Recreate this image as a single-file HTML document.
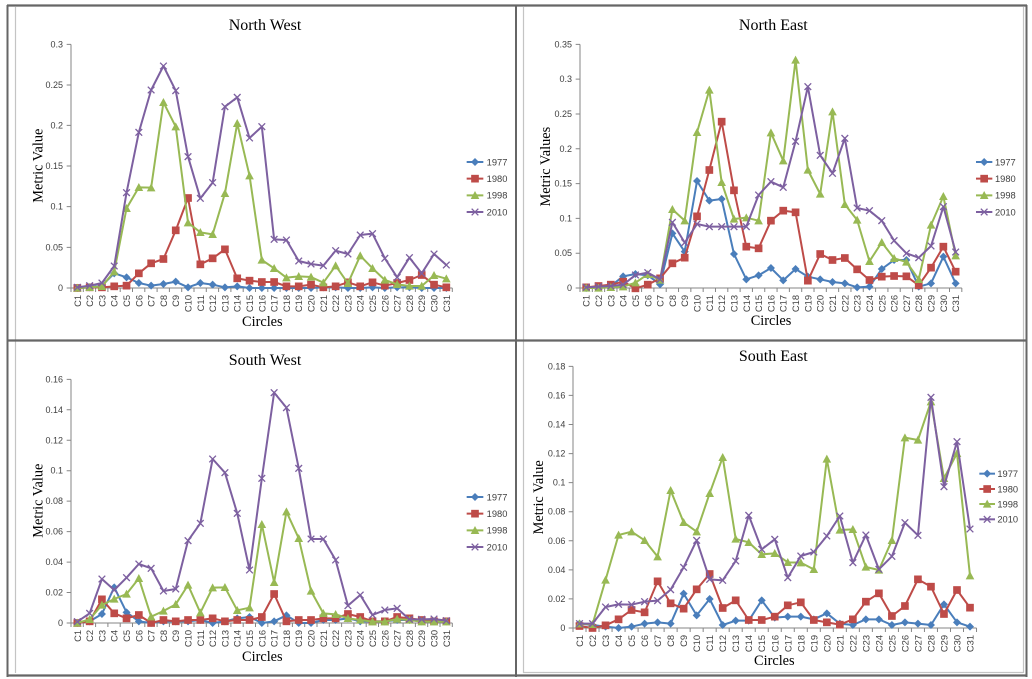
<!DOCTYPE html>
<html><head><meta charset="utf-8"><style>
html,body{margin:0;padding:0;background:#fff;}
svg{display:block;}
.tk{font-family:"Liberation Sans",Arial,sans-serif;font-size:27px;fill:#404040;}
.cx{font-family:"Liberation Sans",Arial,sans-serif;font-size:28px;fill:#404040;text-anchor:end;}
.lg{font-family:"Liberation Sans",Arial,sans-serif;font-size:28px;fill:#404040;}
.ti{font-family:"Liberation Serif","Times New Roman",serif;font-size:48px;fill:#000;text-anchor:middle;}
.al{font-family:"Liberation Serif","Times New Roman",serif;font-size:43px;fill:#000;text-anchor:middle;}
.ax{stroke:#868686;stroke-width:3;fill:none;}
.s1{stroke:#4a7ebb;stroke-width:6;fill:none;stroke-linejoin:round;marker-start:url(#mD);marker-mid:url(#mD);marker-end:url(#mD);}
.s2{stroke:#be4b48;stroke-width:6;fill:none;stroke-linejoin:round;marker-start:url(#mS);marker-mid:url(#mS);marker-end:url(#mS);}
.s3{stroke:#98b954;stroke-width:6;fill:none;stroke-linejoin:round;marker-start:url(#mT);marker-mid:url(#mT);marker-end:url(#mT);}
.s4{stroke:#7d60a0;stroke-width:6;fill:none;stroke-linejoin:round;marker-start:url(#mX);marker-mid:url(#mX);marker-end:url(#mX);}
.l1{stroke:#4a7ebb;stroke-width:6;fill:none;marker-mid:url(#mD);}
.l2{stroke:#be4b48;stroke-width:6;fill:none;marker-mid:url(#mS);}
.l3{stroke:#98b954;stroke-width:6;fill:none;marker-mid:url(#mT);}
.l4{stroke:#7d60a0;stroke-width:6;fill:none;marker-mid:url(#mX);}
</style></head><body>
<svg width="1032" height="679" viewBox="0 0 1032 679" xmlns="http://www.w3.org/2000/svg">
<defs>
<marker id="mD" markerUnits="userSpaceOnUse" markerWidth="40" markerHeight="40" refX="20" refY="20" orient="0"><path d="M20,8 L32,20 L20,32 L8,20Z" fill="#4a7ebb"/></marker>
<marker id="mS" markerUnits="userSpaceOnUse" markerWidth="40" markerHeight="40" refX="20" refY="20" orient="0"><rect x="8.5" y="8.5" width="23" height="23" fill="#be4b48"/></marker>
<marker id="mT" markerUnits="userSpaceOnUse" markerWidth="40" markerHeight="40" refX="20" refY="20" orient="0"><path d="M20,7 L33,31 L7,31Z" fill="#98b954"/></marker>
<marker id="mX" markerUnits="userSpaceOnUse" markerWidth="40" markerHeight="40" refX="20" refY="20" orient="0"><path d="M10,10 L30,30 M10,30 L30,10" stroke="#7d60a0" stroke-width="4" fill="none"/></marker>
</defs>
<rect width="1032" height="679" fill="#fff"/>

<!-- ============ NORTH WEST ============ -->
<g transform="translate(0,0) scale(0.333333)">
<text class="ti" x="795" y="90">North West</text>
<text class="al" x="787" y="978">Circles</text>
<text class="al" transform="translate(127,497) rotate(-90)">Metric Value</text>
<path class="ax" d="M213,133V864M213,864H1357"/>
<path class="ax" d="M200,864H213M200,742H213M200,620H213M200,498H213M200,376H213M200,255H213M200,133H213"/>
<path d="M211.5,870H1358.5" stroke="#868686" stroke-width="12" stroke-dasharray="3 33.9" fill="none"/>
<g class="tk" text-anchor="end">
<text x="189" y="873">0</text><text x="189" y="751">0.05</text><text x="189" y="629">0.1</text><text x="189" y="507">0.15</text><text x="189" y="385">0.2</text><text x="189" y="264">0.25</text><text x="189" y="142">0.3</text>
</g>
<g transform="rotate(-90)" class="cx">
<text x="-885" y="242.5">C1</text><text x="-885" y="279.4">C2</text><text x="-885" y="316.3">C3</text><text x="-885" y="353.2">C4</text><text x="-885" y="390.1">C5</text><text x="-885" y="427">C6</text><text x="-885" y="463.9">C7</text><text x="-885" y="500.8">C8</text><text x="-885" y="537.7">C9</text><text x="-885" y="574.6">C10</text><text x="-885" y="611.5">C11</text><text x="-885" y="648.4">C12</text><text x="-885" y="685.3">C13</text><text x="-885" y="722.2">C14</text><text x="-885" y="759.1">C15</text><text x="-885" y="796">C16</text><text x="-885" y="832.9">C17</text><text x="-885" y="869.8">C18</text><text x="-885" y="906.7">C19</text><text x="-885" y="943.6">C20</text><text x="-885" y="980.5">C21</text><text x="-885" y="1017.4">C22</text><text x="-885" y="1054.3">C23</text><text x="-885" y="1091.2">C24</text><text x="-885" y="1128.1">C25</text><text x="-885" y="1165">C26</text><text x="-885" y="1201.9">C27</text><text x="-885" y="1238.8">C28</text><text x="-885" y="1275.7">C29</text><text x="-885" y="1312.6">C30</text><text x="-885" y="1349.5">C31</text>
</g>
<polyline class="s1" points="232,864 268.9,862 305.8,857 342.7,820 379.6,832 416.5,849 453.4,857 490.3,852 527.2,845 564.1,862 601,849 637.9,854 674.8,862 711.7,859 748.6,864 785.5,864 822.4,864 859.3,864 896.2,864 933.1,864 970,862 1006.9,862 1043.8,864 1080.7,864 1117.6,862 1154.5,864 1191.4,862 1228.3,862 1265.2,864 1302.1,864 1339,864"/>
<polyline class="s2" points="232,864 268.9,862 305.8,862 342.7,859 379.6,857 416.5,820 453.4,790 490.3,777 527.2,691 564.1,594 601,793 637.9,775 674.8,748 711.7,835 748.6,842 785.5,846 822.4,846 859.3,859 896.2,859 933.1,854 970,862 1006.9,859 1043.8,847 1080.7,859 1117.6,847 1154.5,857 1191.4,849 1228.3,840 1265.2,825 1302.1,854 1339,862"/>
<polyline class="s3" points="232,864 268.9,862 305.8,859 342.7,815 379.6,625 416.5,562 453.4,563 490.3,307 527.2,380 564.1,668 601,697 637.9,703 674.8,580 711.7,370 748.6,527 785.5,780 822.4,805 859.3,833 896.2,829 933.1,831 970,848 1006.9,797 1043.8,850 1080.7,767 1117.6,805 1154.5,840 1191.4,853 1228.3,858 1265.2,858 1302.1,826 1339,836"/>
<polyline class="s4" points="232,862 268.9,857 305.8,849 342.7,798 379.6,578 416.5,397 453.4,270 490.3,198 527.2,272 564.1,470 601,595 637.9,548 674.8,320 711.7,292 748.6,414 785.5,380 822.4,718 859.3,720 896.2,783 933.1,792 970,797 1006.9,752 1043.8,762 1080.7,705 1117.6,701 1154.5,775 1191.4,832 1228.3,773 1265.2,820 1302.1,762 1339,795"/>
<polyline class="l1" points="1400,486 1425,486 1450,486"/><text class="lg" x="1460" y="496">1977</text>
<polyline class="l2" points="1400,536 1425,536 1450,536"/><text class="lg" x="1460" y="546">1980</text>
<polyline class="l3" points="1400,586 1425,586 1450,586"/><text class="lg" x="1460" y="596">1998</text>
<polyline class="l4" points="1400,636 1425,636 1450,636"/><text class="lg" x="1460" y="646">2010</text>
</g>

<!-- ============ NORTH EAST ============ -->
<g transform="translate(515,0) scale(0.333333)">
<text class="ti" x="775" y="90">North East</text>
<text class="al" x="768" y="975">Circles</text>
<text class="al" transform="translate(105,500) rotate(-90)">Metric Values</text>
<path class="ax" d="M195,133V864M195,864H1340.5"/>
<path class="ax" d="M182,864H195M182,759.6H195M182,655.1H195M182,550.7H195M182,446.3H195M182,341.9H195M182,237.4H195M182,133H195"/>
<path d="M193.5,870H1342" stroke="#868686" stroke-width="12" stroke-dasharray="3 33.95" fill="none"/>
<g class="tk" text-anchor="end">
<text x="171" y="873">0</text><text x="171" y="768.6">0.05</text><text x="171" y="664.1">0.1</text><text x="171" y="559.7">0.15</text><text x="171" y="455.3">0.2</text><text x="171" y="350.9">0.25</text><text x="171" y="246.4">0.3</text><text x="171" y="142">0.35</text>
</g>
<g transform="rotate(-90)" class="cx">
<text x="-885" y="224">C1</text><text x="-885" y="261">C2</text><text x="-885" y="297.9">C3</text><text x="-885" y="334.9">C4</text><text x="-885" y="371.8">C5</text><text x="-885" y="408.8">C6</text><text x="-885" y="445.7">C7</text><text x="-885" y="482.7">C8</text><text x="-885" y="519.6">C9</text><text x="-885" y="556.6">C10</text><text x="-885" y="593.5">C11</text><text x="-885" y="630.5">C12</text><text x="-885" y="667.4">C13</text><text x="-885" y="704.4">C14</text><text x="-885" y="741.3">C15</text><text x="-885" y="778.3">C16</text><text x="-885" y="815.2">C17</text><text x="-885" y="852.2">C18</text><text x="-885" y="889.1">C19</text><text x="-885" y="926.1">C20</text><text x="-885" y="963">C21</text><text x="-885" y="1000">C22</text><text x="-885" y="1036.9">C23</text><text x="-885" y="1073.9">C24</text><text x="-885" y="1110.8">C25</text><text x="-885" y="1147.8">C26</text><text x="-885" y="1184.7">C27</text><text x="-885" y="1221.7">C28</text><text x="-885" y="1258.6">C29</text><text x="-885" y="1295.6">C30</text><text x="-885" y="1332.5">C31</text>
</g>
<polyline class="s1" points="213.5,864 250.5,862 287.4,858 324.4,829 361.3,822 398.3,826 435.2,853 472.2,700 509.1,755 546.1,543 583,602 620,597 656.9,762 693.9,838 730.8,826 767.8,804 804.7,841 841.7,807 878.6,830 915.6,838 952.5,846 989.5,850 1026.4,862 1063.4,860 1100.3,807 1137.3,780 1174.2,780 1211.2,860 1248.1,850 1285.1,770 1322,850"/>
<polyline class="s2" points="213.5,862 250.5,858 287.4,854 324.4,845 361.3,865 398.3,854 435.2,835 472.2,790 509.1,773 546.1,649 583,510 620,365 656.9,571 693.9,740 730.8,745 767.8,662 804.7,632 841.7,637 878.6,842 915.6,762 952.5,780 989.5,774 1026.4,808 1063.4,840 1100.3,830 1137.3,828 1174.2,829 1211.2,856 1248.1,803 1285.1,740 1322,815"/>
<polyline class="s3" points="213.5,864 250.5,864 287.4,862 324.4,860 361.3,848 398.3,823 435.2,840 472.2,628 509.1,662 546.1,397 583,270 620,547 656.9,657 693.9,653 730.8,662 767.8,398 804.7,482 841.7,180 878.6,510 915.6,582 952.5,335 989.5,613 1026.4,660 1063.4,784 1100.3,727 1137.3,775 1174.2,786 1211.2,838 1248.1,675 1285.1,589 1322,767"/>
<polyline class="s4" points="213.5,862 250.5,860 287.4,858 324.4,854 361.3,825 398.3,818 435.2,838 472.2,667 509.1,728 546.1,672 583,680 620,680 656.9,680 693.9,680 730.8,585 767.8,545 804.7,562 841.7,424 878.6,260 915.6,466 952.5,520 989.5,415 1026.4,624 1063.4,632 1100.3,662 1137.3,722 1174.2,760 1211.2,773 1248.1,738 1285.1,620 1322,756"/>
<polyline class="l1" points="1383,486 1407.5,486 1432,486"/><text class="lg" x="1440" y="496">1977</text>
<polyline class="l2" points="1383,536 1407.5,536 1432,536"/><text class="lg" x="1440" y="546">1980</text>
<polyline class="l3" points="1383,586 1407.5,586 1432,586"/><text class="lg" x="1440" y="596">1998</text>
<polyline class="l4" points="1383,636 1407.5,636 1432,636"/><text class="lg" x="1440" y="646">2010</text>
</g>

<!-- ============ SOUTH WEST ============ -->
<g transform="translate(0,335) scale(0.333333)">
<text class="ti" x="795" y="90">South West</text>
<text class="al" x="787" y="978">Circles</text>
<text class="al" transform="translate(127,497) rotate(-90)">Metric Value</text>
<path class="ax" d="M213,133V864M213,864H1357"/>
<path class="ax" d="M200,864H213M200,772.6H213M200,681.3H213M200,589.9H213M200,498.5H213M200,407.1H213M200,315.8H213M200,224.4H213M200,133H213"/>
<path d="M211.5,870H1358.5" stroke="#868686" stroke-width="12" stroke-dasharray="3 33.9" fill="none"/>
<g class="tk" text-anchor="end">
<text x="189" y="873">0</text><text x="189" y="781.6">0.02</text><text x="189" y="690.3">0.04</text><text x="189" y="598.9">0.06</text><text x="189" y="507.5">0.08</text><text x="189" y="416.1">0.1</text><text x="189" y="324.8">0.12</text><text x="189" y="233.4">0.14</text><text x="189" y="142">0.16</text>
</g>
<g transform="rotate(-90)" class="cx">
<text x="-885" y="242.5">C1</text><text x="-885" y="279.4">C2</text><text x="-885" y="316.3">C3</text><text x="-885" y="353.2">C4</text><text x="-885" y="390.1">C5</text><text x="-885" y="427">C6</text><text x="-885" y="463.9">C7</text><text x="-885" y="500.8">C8</text><text x="-885" y="537.7">C9</text><text x="-885" y="574.6">C10</text><text x="-885" y="611.5">C11</text><text x="-885" y="648.4">C12</text><text x="-885" y="685.3">C13</text><text x="-885" y="722.2">C14</text><text x="-885" y="759.1">C15</text><text x="-885" y="796">C16</text><text x="-885" y="832.9">C17</text><text x="-885" y="869.8">C18</text><text x="-885" y="906.7">C19</text><text x="-885" y="943.6">C20</text><text x="-885" y="980.5">C21</text><text x="-885" y="1017.4">C22</text><text x="-885" y="1054.3">C23</text><text x="-885" y="1091.2">C24</text><text x="-885" y="1128.1">C25</text><text x="-885" y="1165">C26</text><text x="-885" y="1201.9">C27</text><text x="-885" y="1238.8">C28</text><text x="-885" y="1275.7">C29</text><text x="-885" y="1312.6">C30</text><text x="-885" y="1349.5">C31</text>
</g>
<polyline class="s1" points="232,864 268.9,859 305.8,837 342.7,757 379.6,832 416.5,859 453.4,864 490.3,859 527.2,859 564.1,859 601,855 637.9,864 674.8,859 711.7,850 748.6,846 785.5,864 822.4,859 859.3,841 896.2,864 933.1,864 970,855 1006.9,855 1043.8,850 1080.7,859 1117.6,859 1154.5,859 1191.4,855 1228.3,855 1265.2,859 1302.1,859 1339,859"/>
<polyline class="s2" points="232,864 268.9,859 305.8,793 342.7,835 379.6,850 416.5,840 453.4,864 490.3,855 527.2,859 564.1,855 601,855 637.9,850 674.8,859 711.7,855 748.6,855 785.5,846 822.4,777 859.3,859 896.2,855 933.1,855 970,850 1006.9,850 1043.8,837 1080.7,846 1117.6,859 1154.5,859 1191.4,846 1228.3,850 1265.2,855 1302.1,859 1339,859"/>
<polyline class="s3" points="232,864 268.9,853 305.8,810 342.7,792 379.6,777 416.5,730 453.4,845 490.3,828 527.2,808 564.1,750 601,833 637.9,758 674.8,757 711.7,826 748.6,818 785.5,568 822.4,742 859.3,530 896.2,610 933.1,768 970,835 1006.9,838 1043.8,850 1080.7,855 1117.6,860 1154.5,860 1191.4,852 1228.3,855 1265.2,860 1302.1,860 1339,860"/>
<polyline class="s4" points="232,860 268.9,835 305.8,732 342.7,765 379.6,728 416.5,687 453.4,700 490.3,768 527.2,762 564.1,617 601,565 637.9,372 674.8,413 711.7,535 748.6,705 785.5,430 822.4,173 859.3,218 896.2,400 933.1,612 970,612 1006.9,675 1043.8,812 1080.7,780 1117.6,840 1154.5,825 1191.4,820 1228.3,853 1265.2,853 1302.1,852 1339,857"/>
<polyline class="l1" points="1400,486 1425,486 1450,486"/><text class="lg" x="1460" y="496">1977</text>
<polyline class="l2" points="1400,536 1425,536 1450,536"/><text class="lg" x="1460" y="546">1980</text>
<polyline class="l3" points="1400,586 1425,586 1450,586"/><text class="lg" x="1460" y="596">1998</text>
<polyline class="l4" points="1400,636 1425,636 1450,636"/><text class="lg" x="1460" y="646">2010</text>
</g>

<!-- ============ SOUTH EAST ============ -->
<g transform="translate(515,335) scale(0.333333)">
<text class="ti" x="775" y="78">South East</text>
<text class="al" x="778" y="990">Circles</text>
<text class="al" transform="translate(84,487) rotate(-90)">Metric Value</text>
<path class="ax" d="M174,94V879M174,879H1384.6"/>
<path class="ax" d="M161,879H174M161,791.8H174M161,704.6H174M161,617.3H174M161,530.1H174M161,442.9H174M161,355.7H174M161,268.4H174M161,181.2H174M161,94H174"/>
<path d="M172.5,885H1387" stroke="#868686" stroke-width="12" stroke-dasharray="3 36.05" fill="none"/>
<g class="tk" text-anchor="end">
<text x="151" y="888">0</text><text x="151" y="800.8">0.02</text><text x="151" y="713.6">0.04</text><text x="151" y="626.3">0.06</text><text x="151" y="539.1">0.08</text><text x="151" y="451.9">0.1</text><text x="151" y="364.7">0.12</text><text x="151" y="277.4">0.14</text><text x="151" y="190.2">0.16</text><text x="151" y="103">0.18</text>
</g>
<g transform="rotate(-90)" class="cx">
<text x="-900" y="204">C1</text><text x="-900" y="243.1">C2</text><text x="-900" y="282.1">C3</text><text x="-900" y="321.2">C4</text><text x="-900" y="360.2">C5</text><text x="-900" y="399.3">C6</text><text x="-900" y="438.3">C7</text><text x="-900" y="477.4">C8</text><text x="-900" y="516.4">C9</text><text x="-900" y="555.5">C10</text><text x="-900" y="594.5">C11</text><text x="-900" y="633.6">C12</text><text x="-900" y="672.6">C13</text><text x="-900" y="711.7">C14</text><text x="-900" y="750.7">C15</text><text x="-900" y="789.8">C16</text><text x="-900" y="828.8">C17</text><text x="-900" y="867.9">C18</text><text x="-900" y="906.9">C19</text><text x="-900" y="946">C20</text><text x="-900" y="985">C21</text><text x="-900" y="1024.1">C22</text><text x="-900" y="1063.1">C23</text><text x="-900" y="1102.2">C24</text><text x="-900" y="1141.2">C25</text><text x="-900" y="1180.3">C26</text><text x="-900" y="1219.3">C27</text><text x="-900" y="1258.4">C28</text><text x="-900" y="1297.4">C29</text><text x="-900" y="1336.5">C30</text><text x="-900" y="1375.5">C31</text>
</g>
<polyline class="s1" points="193.5,866 232.6,870 271.6,875 310.7,879 349.7,875 388.8,866 427.8,862 466.9,866 505.9,776 545,841 584,792 623.1,870 662.1,857 701.2,857 740.2,796 779.3,848 818.3,845 857.4,845 896.4,853 935.5,835 974.5,866 1013.6,870 1052.6,853 1091.7,853 1130.7,870 1169.8,862 1208.8,866 1247.9,870 1286.9,808 1326,862 1365,875"/>
<polyline class="s2" points="193.5,873 232.6,879 271.6,871 310.7,853 349.7,825 388.8,832 427.8,739 466.9,805 505.9,821 545,763 584,717 623.1,819 662.1,796 701.2,855 740.2,855 779.3,845 818.3,811 857.4,802 896.4,855 935.5,862 974.5,869 1013.6,853 1052.6,800 1091.7,775 1130.7,843 1169.8,813 1208.8,733 1247.9,755 1286.9,837 1326,765 1365,818"/>
<polyline class="s3" points="193.5,866 232.6,868 271.6,735 310.7,600 349.7,590 388.8,616 427.8,665 466.9,466 505.9,562 545,590 584,475 623.1,367 662.1,612 701.2,622 740.2,658 779.3,655 818.3,682 857.4,683 896.4,703 935.5,372 974.5,585 1013.6,583 1052.6,696 1091.7,705 1130.7,616 1169.8,308 1208.8,315 1247.9,200 1286.9,430 1326,355 1365,722"/>
<polyline class="s4" points="193.5,866 232.6,866 271.6,816 310.7,808 349.7,809 388.8,800 427.8,797 466.9,764 505.9,697 545,616 584,733 623.1,736 662.1,678 701.2,541 740.2,643 779.3,613 818.3,728 857.4,663 896.4,651 935.5,603 974.5,543 1013.6,683 1052.6,600 1091.7,703 1130.7,664 1169.8,563 1208.8,601 1247.9,187 1286.9,455 1326,320 1365,582"/>
<polyline class="l1" points="1393,416 1416.5,416 1440,416"/><text class="lg" x="1447" y="426">1977</text>
<polyline class="l2" points="1393,462 1416.5,462 1440,462"/><text class="lg" x="1447" y="472">1980</text>
<polyline class="l3" points="1393,507 1416.5,507 1440,507"/><text class="lg" x="1447" y="517">1998</text>
<polyline class="l4" points="1393,553 1416.5,553 1440,553"/><text class="lg" x="1447" y="563">2010</text>
</g>

<!-- ============ FRAME ============ -->
<g fill="none">
<path d="M15.5,7V673M523.5,7V673M1023.5,7V673M523,672.5H1023" stroke="#c4c4c4" stroke-width="1.2"/>
<path d="M7.5,5V677M1026.5,5V677M516,5V677" stroke="#666" stroke-width="2"/>
<path d="M7,5.5H1027M7,675.5H1027M7,340.5H1027" stroke="#666" stroke-width="2.2"/>
</g>
</svg>
</body></html>
